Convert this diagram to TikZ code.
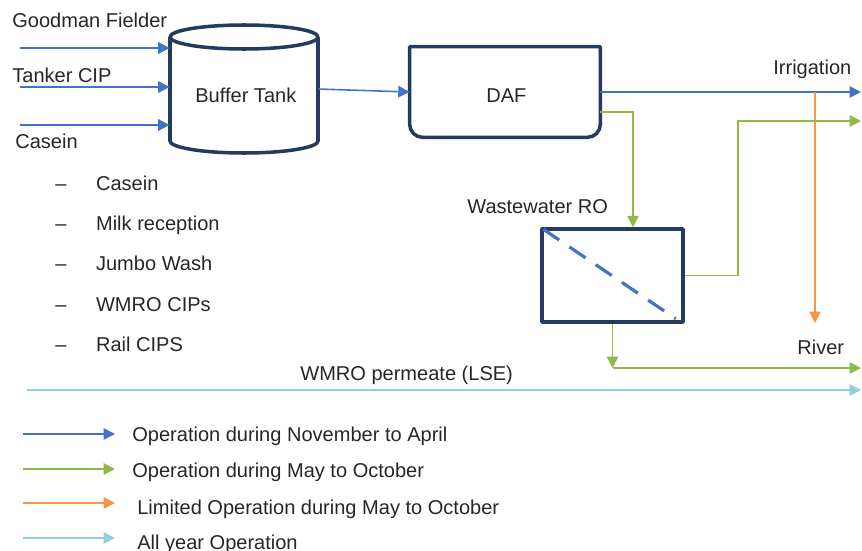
\documentclass[tikz,border=0pt]{standalone}
\usepackage{fontspec}
\setmainfont{Liberation Sans}
\usetikzlibrary{arrows.meta,positioning}
\definecolor{flowblue}{RGB}{68,114,196}
\definecolor{flowgreen}{RGB}{141,186,72}
\definecolor{floworange}{RGB}{247,150,70}
\definecolor{flowcyan}{RGB}{146,205,222}
\definecolor{vesselnavy}{RGB}{36,58,94}

\begin{document}
\begin{tikzpicture}[x=0.02cm, y=-0.02cm,
      every node/.style={font=\fontsize{11.4}{13.7}\selectfont, text=black!85},
      txt/.style={inner sep=0pt, anchor=base west},
      vessel/.style={draw=vesselnavy, line width=2pt, line join=round},
      flow/.style={line width=0.9pt, -{Triangle[length=6.5pt, width=6.5pt]}},
      blueflow/.style={flow, draw=flowblue},
      greenflow/.style={flow, draw=flowgreen},
      orangeflow/.style={flow, draw=floworange},
      cyanflow/.style={flow, draw=flowcyan}
  ]
    \useasboundingbox (0,0) rectangle (862,551);
    % units
    \node[minimum width=2.96cm, minimum height=2.3cm] (tank) at (244,95) {};
    \node[txt] (tanklbl) at (195,102) {Buffer Tank};
    \draw[vessel] (170,37) -- (170,141) arc[start angle=180, end angle=0, x radius=74, y radius=12] -- (318,37);
    \draw[vessel] (244,37) ellipse[x radius=74, y radius=12];
    \node[minimum width=3.8cm, minimum height=1.8cm] (daf) at (505,92) {};
    \node[txt] (daflbl) at (486,102) {DAF};
    \draw[vessel] (daf.north west) -- (daf.north east) -- ([yshift=0.26cm]daf.south east)
      arc[start angle=0, end angle=-90, radius=0.26cm] -- ([xshift=0.26cm]daf.south west)
      arc[start angle=-90, end angle=-180, radius=0.26cm] -- cycle;
    \node[vessel, minimum width=2.82cm, minimum height=1.86cm] (ro) at (612.5,275.5) {};
    \draw[flowblue, line width=1.8pt, dash pattern=on 11pt off 7pt] ([shift={(3,2)}]ro.north west) -- ([shift={(-9,-5)}]ro.south east);
    \node[txt] (rolbl) at (467,213) {Wastewater RO};
    % sources and destinations
    \node[txt] (gflbl) at (12,28) {Goodman Fielder};
    \node[txt] (tclbl) at (12,82) {Tanker CIP};
    \node[txt] (cslbl) at (15,148) {Casein};
    \node[txt] (src1) at (55,190) {\makebox[23.2pt][l]{–}Casein};
    \node[txt] (src2) at (55,230) {\makebox[23.2pt][l]{–}Milk reception};
    \node[txt] (src3) at (55,270) {\makebox[23.2pt][l]{–}Jumbo Wash};
    \node[txt] (src4) at (55,311) {\makebox[23.2pt][l]{–}WMRO CIPs};
    \node[txt] (src5) at (55,351) {\makebox[23.2pt][l]{–}Rail CIPS};
    \node[txt] (irr) at (773,74) {Irrigation};
    \node[txt] (river) at (797,354) {River};
    \node[txt] (perm) at (300,380) {WMRO permeate (LSE)};
    \coordinate (gf) at (20,48);
    \coordinate (tc) at (20,87);
    \coordinate (cs) at (20,125);
    \coordinate (irrend) at (861,92);
    \coordinate (rivtap) at (815,92);
    \coordinate (rivend) at (815,323);
    \coordinate (riser) at (738,121);
    \coordinate (out2) at (861,121);
    \coordinate (lse) at (612.5,368);
    \coordinate (out3) at (861,368);
    \coordinate (perm0) at (27,390);
    \coordinate (perm1) at (861,390);
    % flows
    \draw[blueflow] (gf) -- (gf -| tank.west);
    \draw[blueflow] (tc) -- (tc -| tank.west);
    \draw[blueflow] (cs) -- (cs -| tank.west);
    \draw[blueflow] ([yshift=0.12cm]tank.east) -- (daf.west);
    \draw[blueflow] (daf.east) -- (irrend);
    \draw[orangeflow] (rivtap) -- (rivend);
    \draw[greenflow] ([yshift=-0.4cm]daf.east) -| ([xshift=0.41cm]ro.north);
    \draw[greenflow] (ro.east) -| (riser) -- (out2);
    \draw[greenflow] (ro.south) -- (lse);
    \draw[greenflow] (lse) -- (out3);
    \draw[cyanflow] (perm0) -- (perm1);
    % legend
    \node[txt] (leg1) at (132,441) {Operation during November to April};
    \node[txt] (leg2) at (132,477) {Operation during May to October};
    \node[txt] (leg3) at (137,514) {Limited Operation during May to October};
    \node[txt] (leg4) at (137,549) {All year Operation};
    \coordinate (key1) at (23,434);
    \coordinate (key2) at (23,469);
    \coordinate (key3) at (23,503);
    \coordinate (key4) at (23,538);
    \draw[blueflow] (key1) -- ++(92,0);
    \draw[greenflow] (key2) -- ++(92,0);
    \draw[orangeflow] (key3) -- ++(92,0);
    \draw[cyanflow] (key4) -- ++(92,0);
  \end{tikzpicture}
\end{document}
